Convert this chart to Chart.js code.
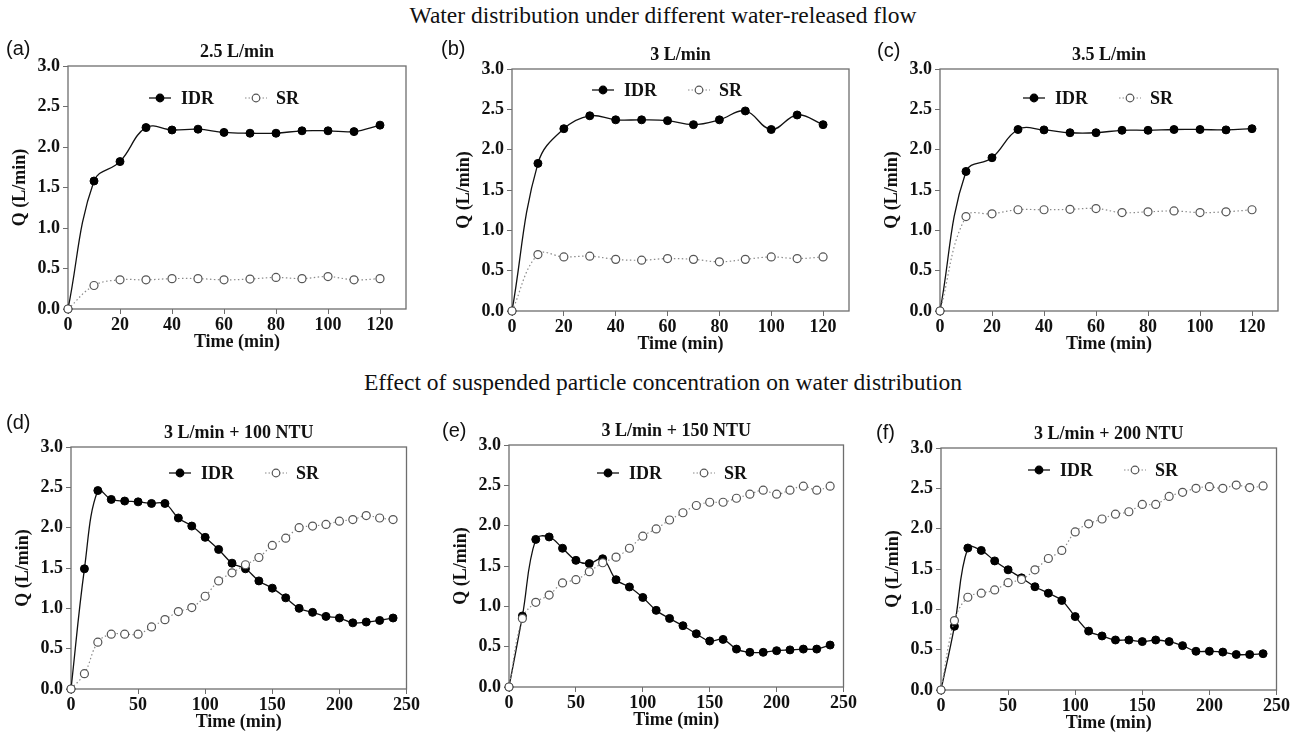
<!DOCTYPE html>
<html>
<head>
<meta charset="utf-8">
<script src="https://cdn.jsdelivr.net/npm/chart.js@4.4.0/dist/chart.umd.min.js"></script>
<style>
  body { margin: 0; background: #fff; width: 1299px; height: 733px; position: relative; overflow: hidden; }
  .heading { position: absolute; left: 0; width: 1326px; text-align: center; font: 23.5px "Liberation Serif", serif; line-height: 23.5px; color: #111; }
  .tag { position: absolute; font: 20px "Liberation Sans", sans-serif; line-height: 20px; color: #111; }
  canvas { position: absolute; }
</style>
</head>
<body>
<div class="heading" style="top:4px">Water distribution under different water-released flow</div>
<div class="heading" style="top:371px">Effect of suspended particle concentration on water distribution</div>
<script>
// sampling times (min)
const timeShort = [0, 10, 20, 30, 40, 50, 60, 70, 80, 90, 100, 110, 120];
const timeLong = [0, 10, 20, 30, 40, 50, 60, 70, 80, 90, 100, 110, 120,
  130, 140, 150, 160, 170, 180, 190, 200, 210, 220, 230, 240];

// tick labels
const yTicks = [0, 0.5, 1.0, 1.5, 2.0, 2.5, 3.0];
const xTicksShort = [0, 20, 40, 60, 80, 100, 120];
const xTicksLong = [0, 50, 100, 150, 200, 250];

const seriesNames = ['IDR', 'SR'];
const panelTitles = ['2.5 L/min', '3 L/min', '3.5 L/min',
  '3 L/min + 100 NTU', '3 L/min + 150 NTU', '3 L/min + 200 NTU'];
const panelTags = ['(a)', '(b)', '(c)', '(d)', '(e)', '(f)'];

// Q (L/min), released flow runs
const idrA = [0, 1.58, 1.82, 2.24, 2.21, 2.22, 2.18, 2.17, 2.17, 2.20, 2.20, 2.19, 2.27];
const srA  = [0, 0.29, 0.36, 0.36, 0.375, 0.375, 0.36, 0.37, 0.39, 0.375, 0.40, 0.36, 0.375];
const idrB = [0, 1.83, 2.26, 2.42, 2.37, 2.37, 2.36, 2.31, 2.37, 2.48, 2.25, 2.43, 2.31];
const srB  = [0, 0.70, 0.67, 0.68, 0.64, 0.63, 0.65, 0.64, 0.61, 0.64, 0.67, 0.65, 0.67];
const idrC = [0, 1.73, 1.90, 2.25, 2.245, 2.21, 2.21, 2.24, 2.24, 2.25, 2.25, 2.245, 2.26];
const srC  = [0, 1.17, 1.205, 1.255, 1.255, 1.26, 1.27, 1.22, 1.23, 1.24, 1.22, 1.23, 1.255];

// Q (L/min), turbidity runs
const idrD = [0, 1.49, 2.46, 2.35, 2.33, 2.32, 2.30, 2.30, 2.12, 2.02, 1.88, 1.73, 1.56,
  1.49, 1.34, 1.25, 1.13, 1.00, 0.95, 0.90, 0.88, 0.82, 0.83, 0.85, 0.88];
const srD  = [0, 0.19, 0.58, 0.68, 0.68, 0.68, 0.77, 0.86, 0.96, 1.01, 1.15, 1.34, 1.44,
  1.54, 1.63, 1.78, 1.87, 2.00, 2.02, 2.04, 2.08, 2.10, 2.15, 2.12, 2.10];
const idrE = [0, 0.88, 1.83, 1.86, 1.72, 1.57, 1.53, 1.59, 1.33, 1.24, 1.11, 0.95, 0.85,
  0.76, 0.66, 0.57, 0.59, 0.47, 0.43, 0.43, 0.45, 0.46, 0.47, 0.47, 0.52];
const srE  = [0, 0.85, 1.05, 1.14, 1.29, 1.33, 1.43, 1.54, 1.61, 1.72, 1.87, 1.96, 2.07,
  2.16, 2.25, 2.29, 2.29, 2.34, 2.39, 2.44, 2.39, 2.44, 2.49, 2.44, 2.49];
const idrF = [0, 0.79, 1.76, 1.73, 1.60, 1.49, 1.39, 1.28, 1.20, 1.11, 0.91, 0.73, 0.67,
  0.62, 0.62, 0.60, 0.62, 0.60, 0.55, 0.48, 0.48, 0.47, 0.44, 0.44, 0.45];
const srF  = [0, 0.86, 1.15, 1.20, 1.24, 1.33, 1.37, 1.49, 1.63, 1.73, 1.96, 2.06, 2.12,
  2.18, 2.21, 2.30, 2.30, 2.40, 2.45, 2.50, 2.52, 2.50, 2.54, 2.51, 2.53];

// page layout: plot box [left, top, right, bottom], legend offset, tag position
const panels = [
  { box: [68, 66, 406, 309],   xMax: 130, time: timeShort, xTicks: xTicksShort, idr: idrA, sr: srA, legend: [81, 32], tag: [6, 38] },
  { box: [512, 69, 849, 311],  xMax: 130, time: timeShort, xTicks: xTicksShort, idr: idrB, sr: srB, legend: [80, 21], tag: [441, 38] },
  { box: [940, 69, 1278, 311], xMax: 130, time: timeShort, xTicks: xTicksShort, idr: idrC, sr: srC, legend: [83, 29], tag: [877, 40] },
  { box: [71, 447, 409, 689],  xMax: 250, time: timeLong, xTicks: xTicksLong, idr: idrD, sr: srD, legend: [98, 26], tag: [6, 412] },
  { box: [509, 445, 846, 687], xMax: 250, time: timeLong, xTicks: xTicksLong, idr: idrE, sr: srE, legend: [88, 28], tag: [442, 420] },
  { box: [941, 448, 1279, 690], xMax: 250, time: timeLong, xTicks: xTicksLong, idr: idrF, sr: srF, legend: [87, 22], tag: [876, 422] }
];

const FRAME = '#6e6e6e';
const INK = '#111';
const SERIF = '"Liberation Serif", "Times New Roman", serif';
const Y_AXIS_W = 68, X_AXIS_H = 50, PAD_TOP = 40, PAD_RIGHT = 12;

Chart.defaults.font.family = SERIF;
Chart.defaults.font.weight = 'bold';
Chart.defaults.font.size = 18;
Chart.defaults.color = INK;

function legendMarker(ctx, x, y, filled) {
  ctx.beginPath();
  ctx.arc(x, y, 3.8, 0, Math.PI * 2);
  ctx.fillStyle = filled ? '#000' : '#fff';
  ctx.fill();
  ctx.lineWidth = 1.2;
  ctx.strokeStyle = filled ? '#000' : '#555';
  ctx.stroke();
}

// frame, panel title and the inline legend
const panelDecor = {
  id: 'panelDecor',
  beforeDatasetsDraw(chart) {
    const { ctx, chartArea: a } = chart;
    ctx.save();
    ctx.strokeStyle = FRAME;
    ctx.lineWidth = 1.3;
    ctx.strokeRect(a.left, a.top, a.right - a.left, a.bottom - a.top);
    ctx.restore();
  },
  afterDatasetsDraw(chart, args, opts) {
    const { ctx, chartArea: a } = chart;
    ctx.save();
    ctx.fillStyle = INK;
    ctx.font = 'bold 18px ' + SERIF;
    ctx.textAlign = 'center';
    ctx.textBaseline = 'middle';
    ctx.fillText(opts.title, (a.left + a.right) / 2, a.top - 14);

    const lx = a.left + opts.legend[0];
    const ly = a.top + opts.legend[1];
    // IDR: solid line with filled dot
    ctx.setLineDash([]);
    ctx.strokeStyle = INK;
    ctx.lineWidth = 1.3;
    ctx.beginPath(); ctx.moveTo(lx, ly); ctx.lineTo(lx + 22, ly); ctx.stroke();
    legendMarker(ctx, lx + 11, ly, true);
    // SR: dotted line with open dot
    ctx.setLineDash([1.5, 2]);
    ctx.strokeStyle = '#8a8a8a';
    ctx.lineWidth = 1.2;
    ctx.beginPath(); ctx.moveTo(lx + 96, ly); ctx.lineTo(lx + 118, ly); ctx.stroke();
    ctx.setLineDash([]);
    legendMarker(ctx, lx + 107, ly, false);

    ctx.fillStyle = INK;
    ctx.textAlign = 'left';
    ctx.fillText(seriesNames[0], lx + 32, ly + 1);
    ctx.fillText(seriesNames[1], lx + 127, ly + 1);
    ctx.restore();
  }
};

panels.forEach((p, i) => {
  const [L, T, R, B] = p.box;
  const canvas = document.createElement('canvas');
  const w = (R - L) + Y_AXIS_W + PAD_RIGHT;
  const h = (B - T) + PAD_TOP + X_AXIS_H;
  canvas.width = w; canvas.height = h;
  canvas.style.left = (L - Y_AXIS_W) + 'px';
  canvas.style.top = (T - PAD_TOP) + 'px';
  canvas.style.width = w + 'px';
  canvas.style.height = h + 'px';
  document.body.appendChild(canvas);

  const tag = document.createElement('div');
  tag.className = 'tag';
  tag.textContent = panelTags[i];
  tag.style.left = p.tag[0] + 'px';
  tag.style.top = p.tag[1] + 'px';
  document.body.appendChild(tag);

  new Chart(canvas, {
    type: 'line',
    data: {
      datasets: [
        {
          label: seriesNames[0],
          data: p.time.map((t, k) => ({ x: t, y: p.idr[k] })),
          borderColor: INK,
          borderWidth: 1.3,
          pointRadius: 4,
          pointBackgroundColor: '#000',
          pointBorderColor: '#000',
          pointBorderWidth: 1,
          tension: 0.4,
          clip: false,
          order: 2
        },
        {
          label: seriesNames[1],
          data: p.time.map((t, k) => ({ x: t, y: p.sr[k] })),
          borderColor: '#8a8a8a',
          borderWidth: 1.2,
          borderDash: [1.5, 2.5],
          pointRadius: 4,
          pointBackgroundColor: '#fff',
          pointBorderColor: '#555',
          pointBorderWidth: 1.2,
          tension: 0.4,
          clip: false,
          order: 1
        }
      ]
    },
    options: {
      responsive: false,
      animation: false,
      events: [],
      layout: { padding: { top: PAD_TOP, right: PAD_RIGHT, left: 0, bottom: 0 } },
      plugins: {
        legend: { display: false },
        title: { display: false },
        tooltip: { enabled: false },
        panelDecor: { title: panelTitles[i], legend: p.legend }
      },
      scales: {
        x: {
          type: 'linear',
          min: 0,
          max: p.xMax,
          afterBuildTicks: s => { s.ticks = p.xTicks.map(v => ({ value: v })); },
          afterFit: s => { s.height = X_AXIS_H; },
          grid: { drawOnChartArea: false, drawTicks: true, tickLength: 5, color: FRAME },
          border: { display: false },
          ticks: { padding: 1, maxRotation: 0, autoSkip: false, color: INK },
          title: { display: true, text: 'Time (min)', padding: { top: 0, bottom: 6 }, color: INK }
        },
        y: {
          min: 0,
          max: 3,
          afterBuildTicks: s => { s.ticks = yTicks.map(v => ({ value: v })); },
          afterFit: s => { s.width = Y_AXIS_W; },
          grid: { drawOnChartArea: false, drawTicks: true, tickLength: 5, color: FRAME },
          border: { display: false },
          ticks: { padding: 3, color: INK, callback: v => Number(v).toFixed(1) },
          title: { display: true, text: 'Q (L/min)', padding: { top: 10, bottom: 0 }, color: INK }
        }
      }
    },
    plugins: [panelDecor]
  });
});
</script>
</body>
</html>
